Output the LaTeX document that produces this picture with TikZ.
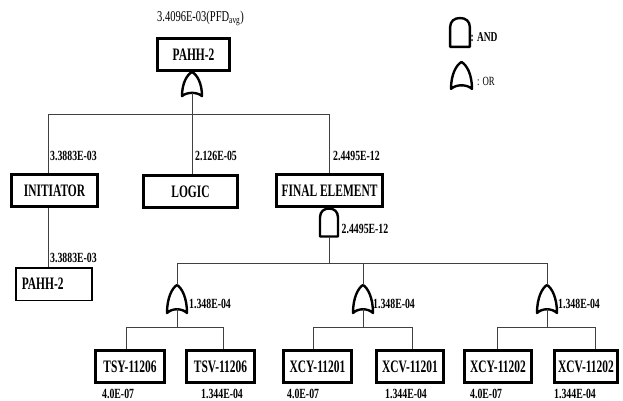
\documentclass[tikz,border=0pt]{standalone}
\usepackage{fontspec}
\setmainfont{Liberation Serif}[FakeStretch=0.7]
\newfontfamily\boxfont{Liberation Serif}[FakeStretch=0.655]
\begin{document}
\begin{tikzpicture}[x=1pt,y=-1pt,
  box/.style={draw, line width=3pt, minimum height=32pt, inner sep=0pt,
    font=\boxfont\fontsize{17.5}{17.5}\selectfont\bfseries},
  thinbox/.style={draw, line width=1.5pt, minimum height=32.5pt, inner ysep=0pt,
    inner xsep=6pt, text width=64pt, align=left, font=\boxfont\fontsize{17.5}{17.5}\selectfont\bfseries},
  lbl/.style={anchor=base west, inner sep=0pt, font=\fontsize{14}{14}\selectfont\bfseries},
  wire/.style={draw=black!75, line width=1pt},
  gate/.style={draw=black, line width=2.4pt, line join=round, fill=white},
  orgate/.pic={\draw[gate] (0,0) .. controls (5,3) and (10,13) .. (10,28)
      .. controls (5,23) and (-5,23) .. (-10,28)
      .. controls (-10,13) and (-5,3) .. (0,0) -- cycle;
    \coordinate (-in) at (0,24.25);},
  andgate/.pic={\draw[gate] (-9,28) -- (-9,9) .. controls (-9,3) and (-5,0) .. (0,0)
      .. controls (5,0) and (9,3) .. (9,9) -- (9,28) -- cycle;
    \coordinate (-in) at (0,28);}
]
\useasboundingbox (0,0) rectangle (623,400);

% legend
\pic[xscale=1.1, yscale=1.03] (lga) at (460,18) {andgate};
\node[anchor=base west, inner sep=0pt, font=\fontsize{13.5}{13.5}\selectfont\bfseries] (lgat) at (470.5,41) {: AND};
\pic[xscale=1.05, yscale=0.96] (lgo) at (461.5,62) {orgate};
\node[anchor=base west, inner sep=0pt, font=\fontsize{12.5}{12.5}\selectfont] (lgot) at (477,85) {: OR};

% top
\node[anchor=base west, inner sep=0pt, font=\fontsize{15}{15}\selectfont] (toplbl) at (157,21)
  {3.4096E-03(PFD\textsubscript{avg})};
\node[box, minimum width=72pt] (top) at (193.5,54.5) {PAHH-2};
\pic[yscale=0.86] (g0) at (192,72) {orgate};

% level 1
\coordinate (a1) at (48,114);
\coordinate (j0) at (192,114);
\coordinate (a3) at (329,114);
\node[box, minimum width=86pt] (init) at (54.5,190.5) {INITIATOR};
\node[box, minimum width=94pt] (logic) at (190.5,191.5) {LOGIC};
\node[box, minimum width=106pt] (fin) at (329.5,190.5) {FINAL ELEMENT};
\draw[wire] (g0-in) -- (j0);
\draw[wire] (a1) -- (a3);
\draw[wire] (a1) -- (a1 |- init.north);
\draw[wire] (j0) -- (j0 |- logic.north);
\draw[wire] (a3) -- (a3 |- fin.north);
\node[lbl] (l1) at (50,160) {3.3883E-03};
\node[lbl] (l2) at (195,160) {2.126E-05};
\node[lbl] (l3) at (333,160) {2.4495E-12};

% initiator branch
\node[thinbox, anchor=west] (pahh) at (15,284) {PAHH-2};
\draw[wire] (a1 |- init.south) -- (a1 |- pahh.north);
\node[lbl] (l4) at (50,262) {3.3883E-03};

% final element AND
\pic (ga) at (329,208.5) {andgate};
\node[lbl] (l5) at (341.5,233) {2.4495E-12};
\coordinate (b1) at (177,263);
\coordinate (b2) at (363,263);
\coordinate (b3) at (547,263);
\coordinate (bm) at (329,263);
\draw[wire] (ga-in) -- (bm);
\draw[wire] (b1) -- (b3);

% OR gates
\pic (g1) at (177,285) {orgate};
\pic (g2) at (363,285) {orgate};
\pic (g3) at (547,285) {orgate};
\draw[wire] (b1) -- (g1-in |- 0,285);
\draw[wire] (b2) -- (g2-in |- 0,285);
\draw[wire] (b3) -- (g3-in |- 0,285);
\node[lbl] (l6) at (189,308) {1.348E-04};
\node[lbl] (l7) at (373,308) {1.348E-04};
\node[lbl] (l8) at (558,308) {1.348E-04};

% bottom boxes
\node[box, minimum width=69pt] (tsy) at (130,366.5) {TSY-11206};
\node[box, minimum width=68pt] (tsv) at (220.5,366.5) {TSV-11206};
\node[box, minimum width=68pt] (xcya) at (317.5,366.5) {XCY-11201};
\node[box, minimum width=67pt] (xcva) at (410,366.5) {XCV-11201};
\node[box, minimum width=67pt] (xcyb) at (498,366.5) {XCY-11202};
\node[box, minimum width=63pt] (xcvb) at (586,366.5) {XCV-11202};

\coordinate (c1) at (177,327);
\coordinate (c1l) at (126,327);
\coordinate (c1r) at (223,327);
\coordinate (c2) at (363,327);
\coordinate (c2l) at (313,327);
\coordinate (c2r) at (412,327);
\coordinate (c3) at (547,327);
\coordinate (c3l) at (497,327);
\coordinate (c3r) at (595,327);
\draw[wire] (g1-in) -- (c1);
\draw[wire] (g2-in) -- (c2);
\draw[wire] (g3-in) -- (c3);
\draw[wire] (c1l) -- (c1r);
\draw[wire] (c2l) -- (c2r);
\draw[wire] (c3l) -- (c3r);
\draw[wire] (c1l) -- (c1l |- tsy.north);
\draw[wire] (c1r) -- (c1r |- tsv.north);
\draw[wire] (c2l) -- (c2l |- xcya.north);
\draw[wire] (c2r) -- (c2r |- xcva.north);
\draw[wire] (c3l) -- (c3l |- xcyb.north);
\draw[wire] (c3r) -- (c3r |- xcvb.north);

\node[lbl] (p1) at (102,398) {4.0E-07};
\node[lbl] (p2) at (201,398) {1.344E-04};
\node[lbl] (p3) at (287,398) {4.0E-07};
\node[lbl] (p4) at (385,398) {1.344E-04};
\node[lbl] (p5) at (470,398) {4.0E-07};
\node[lbl] (p6) at (554,398) {1.344E-04};
\end{tikzpicture}
\end{document}
